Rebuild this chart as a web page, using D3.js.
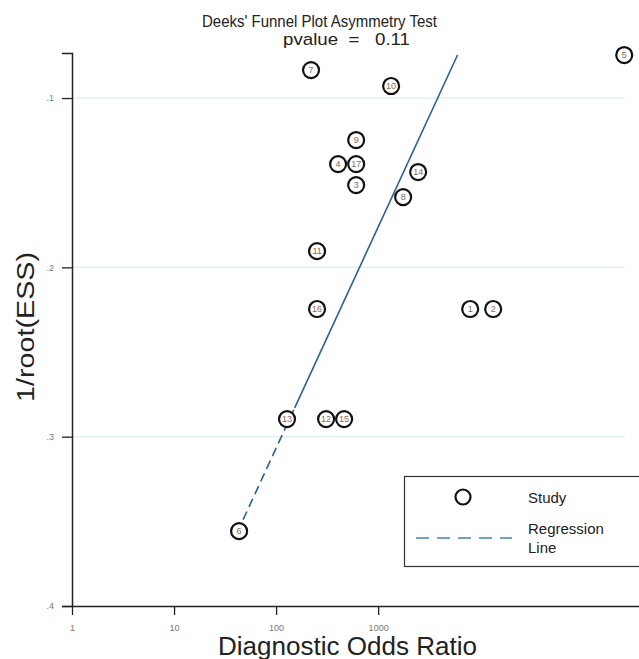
<!DOCTYPE html>
<html><head><meta charset="utf-8">
<script src="https://cdn.jsdelivr.net/npm/d3@7/dist/d3.min.js"></script>
<style>body{margin:0;background:#fff;}svg{display:block;font-family:"Liberation Sans",Arial,sans-serif;}</style>
</head><body>
<script>
// Data
const studyIds = [1,2,3,4,5,6,7,8,9,10,11,12,13,14,15,16,17];
const dorValues = [7980,13400,609,405,258000,43.4,220,1758,609,1340,252,309,128,2466,464,252,609];
const invRootEss = [0.2246,0.2246,0.1514,0.139,0.0746,0.3558,0.0835,0.1585,0.1248,0.0929,0.1904,0.2896,0.2896,0.1437,0.2896,0.2246,0.139];
const regLineDor = [47.5, 6000];
const regLineEss = [0.349, 0.0746];
const regSolidAbove = 0.283;
const xTicks = [1,10,100,1000];
const yTicks = [0.1,0.2,0.3,0.4];
const yTickLabels = [".1",".2",".3",".4"];

const W = 639, H = 659;
const svg = d3.select("body").append("svg").attr("width", W).attr("height", H);

const x = d3.scaleLog().domain([1, 360000]).range([72, 639]);
const y = d3.scaleLinear().domain([0.0734, 0.4]).range([53, 606]);

// grid
svg.append("g").selectAll("line").data(yTicks.slice(0,3)).join("line")
  .attr("x1", 73).attr("x2", 625).attr("y1", d=>y(d)).attr("y2", d=>y(d))
  .attr("stroke", "#e2f0f2").attr("stroke-width", 1.5);

// axes
const yAxis = d3.axisLeft(y).tickValues(yTicks).tickFormat((d,i)=>yTickLabels[i]).tickSize(10).tickPadding(8);
const gy = svg.append("g").attr("transform", "translate(72,0)").call(yAxis);
const xAxis = d3.axisBottom(x).tickValues(xTicks).tickFormat(d3.format("d")).tickSize(9).tickPadding(10);
const gx = svg.append("g").attr("transform", "translate(0,606)").call(xAxis);
gx.select(".domain").attr("d", "M72,0.5H639");
[gx, gy].forEach(g => {
  g.select(".domain").attr("stroke", "#222").attr("stroke-width", 1.5);
  g.selectAll(".tick line").attr("stroke", "#222").attr("stroke-width", 1.3);
  g.selectAll(".tick text").attr("fill", "#777").attr("font-size", 9).attr("font-family", "Liberation Sans, Arial, sans-serif");
});

// regression line
const pts = regLineDor.map((d,i)=>({dor:d, ess:regLineEss[i]}));
const t = (regSolidAbove - pts[0].ess) / (pts[1].ess - pts[0].ess);
const midDor = Math.pow(10, Math.log10(pts[0].dor) + t*(Math.log10(pts[1].dor)-Math.log10(pts[0].dor)));
const mid = {dor: midDor, ess: regSolidAbove};
const lineGen = d3.line().x(d=>x(d.dor)).y(d=>y(d.ess));
svg.append("path").attr("d", lineGen([pts[0], mid])).attr("fill","none")
  .attr("stroke", "#2d5f93").attr("stroke-width", 1.6).attr("stroke-dasharray", "9,5");
svg.append("path").attr("d", lineGen([mid, pts[1]])).attr("fill","none")
  .attr("stroke", "#2d5f93").attr("stroke-width", 1.6);

// points
const data = studyIds.map((id,i)=>({id, dor:dorValues[i], ess:invRootEss[i]}));
const gp = svg.append("g");
gp.selectAll("circle").data(data).join("circle")
  .attr("cx", d=>x(d.dor)).attr("cy", d=>y(d.ess)).attr("r", 8)
  .attr("fill", "#fff").attr("stroke", "#111").attr("stroke-width", 2.2);
gp.selectAll("text").data(data).join("text")
  .attr("x", d=>x(d.dor)).attr("y", d=>y(d.ess)+3.2)
  .attr("text-anchor", "middle").attr("font-size", 9).attr("fill", "#8a6a5a")
  .text(d=>d.id);

// titles
svg.append("text").attr("x", 202).attr("y", 27)
  .attr("font-size", 17).attr("fill", "#222")
  .attr("textLength", 235).attr("lengthAdjust", "spacingAndGlyphs")
  .text("Deeks' Funnel Plot Asymmetry Test");
svg.append("text").attr("x", 283).attr("y", 45)
  .attr("font-size", 17).attr("fill", "#222").attr("xml:space","preserve")
  .attr("textLength", 127).attr("lengthAdjust", "spacingAndGlyphs")
  .text("pvalue  =   0.11");
svg.append("text").attr("transform", "translate(34,402) rotate(-90)")
  .attr("font-size", 23).attr("fill", "#222")
  .attr("textLength", 150).attr("lengthAdjust", "spacingAndGlyphs")
  .text("1/root(ESS)");
svg.append("text").attr("x", 218).attr("y", 655)
  .attr("font-size", 25).attr("fill", "#222")
  .attr("textLength", 259).attr("lengthAdjust", "spacingAndGlyphs")
  .text("Diagnostic Odds Ratio");

// legend
const lg = svg.append("g");
lg.append("rect").attr("x", 404.5).attr("y", 476.5).attr("width", 250).attr("height", 90)
  .attr("fill","#fff").attr("stroke","#333").attr("stroke-width",1.2);
lg.append("circle").attr("cx", 463).attr("cy", 497).attr("r", 7.5)
  .attr("fill","#fff").attr("stroke","#111").attr("stroke-width",2.2);
lg.append("text").attr("x", 528).attr("y", 503).attr("font-size", 15).attr("fill","#222").text("Study");
lg.append("line").attr("x1", 416).attr("x2", 512).attr("y1", 538).attr("y2", 538)
  .attr("stroke","#4a7fb5").attr("stroke-width",1.5).attr("stroke-dasharray","13,8");
lg.append("text").attr("x", 528).attr("y", 534).attr("font-size", 15).attr("fill","#222").text("Regression");
lg.append("text").attr("x", 528).attr("y", 553).attr("font-size", 15).attr("fill","#222").text("Line");
</script>
</body></html>
